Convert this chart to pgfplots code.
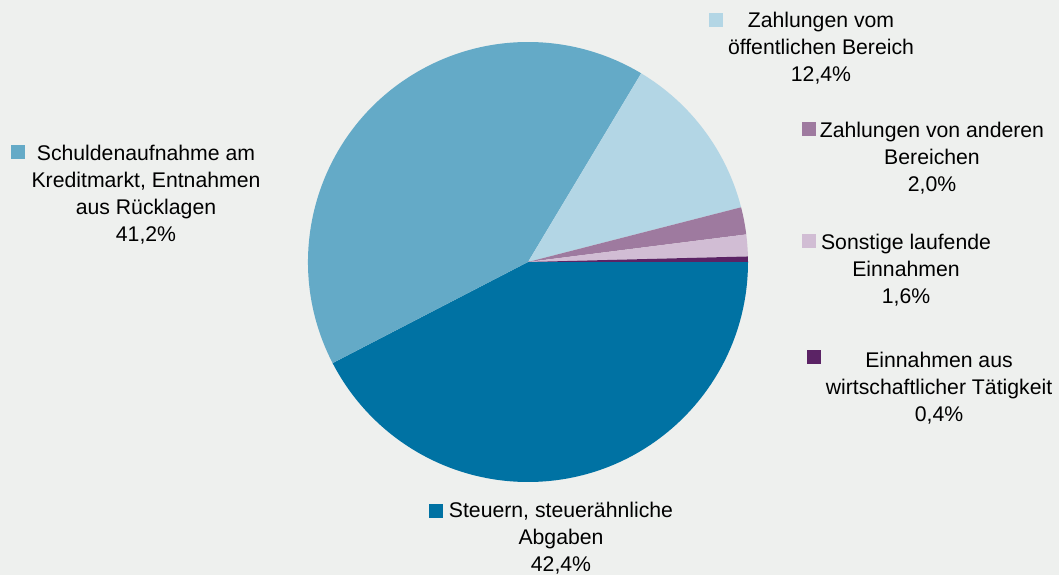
\documentclass[border=0pt]{standalone}
\usepackage{pgfplots}
\pgfplotsset{compat=1.18}
\usepackage{pgfplotstable}
\usepackage{fontspec}
\setmainfont{Liberation Sans}
\definecolor{bg}{HTML}{EEF0EE}
\definecolor{cA}{HTML}{0072A3}
\definecolor{cB}{HTML}{64AAC7}
\definecolor{cC}{HTML}{B3D6E5}
\definecolor{cD}{HTML}{9E7A9F}
\definecolor{cE}{HTML}{D1BDD4}
\definecolor{cF}{HTML}{5B2365}
\pgfplotstableread{
value
42.4
41.2
12.4
2.0
1.6
0.4
}\piedata
\tikzset{lab/.style={font=\fontsize{21.3}{27}\selectfont,align=center,inner sep=0pt}}
\begin{document}%
\begin{tikzpicture}
\pgfmathsetmacro\aO{0}
\pgfplotstablegetelem{0}{value}\of\piedata \pgfmathsetmacro\aA{\aO-3.6*\pgfplotsretval}
\pgfplotstablegetelem{1}{value}\of\piedata \pgfmathsetmacro\aB{\aA-3.6*\pgfplotsretval}
\pgfplotstablegetelem{2}{value}\of\piedata \pgfmathsetmacro\aC{\aB-3.6*\pgfplotsretval}
\pgfplotstablegetelem{3}{value}\of\piedata \pgfmathsetmacro\aD{\aC-3.6*\pgfplotsretval}
\pgfplotstablegetelem{4}{value}\of\piedata \pgfmathsetmacro\aE{\aD-3.6*\pgfplotsretval}
\pgfplotstablegetelem{5}{value}\of\piedata \pgfmathsetmacro\aF{\aE-3.6*\pgfplotsretval}
\begin{axis}[x=1bp,y=1bp,xmin=0,xmax=1059,ymin=0,ymax=575,hide axis,clip=false]
\fill[bg] (rel axis cs:0,0) rectangle (rel axis cs:1,1);
\coordinate (BL) at (rel axis cs:0,0);
\coordinate (TR) at (rel axis cs:1,1);
\def\slice#1#2#3{\fill[#1] (axis cs:528,313) -- +(#2:220bp) arc[start angle=#2,end angle=#3,radius=220bp] -- cycle;}
\slice{cA}{\aO}{\aA}
\slice{cB}{\aA}{\aB}
\slice{cC}{\aB}{\aC}
\slice{cD}{\aC}{\aD}
\slice{cE}{\aD}{\aE}
\slice{cF}{\aE}{\aF}
% labels
\node[lab] at (axis cs:821,526.5) {Zahlungen vom\\öffentlichen Bereich\\12,4\%};
\fill[cC] (axis cs:709,548) rectangle (axis cs:723,562);
\node[lab] at (axis cs:932,417) {Zahlungen von anderen\\Bereichen\\2,0\%};
\fill[cD] (axis cs:802,439) rectangle (axis cs:816,453);
\node[lab] at (axis cs:906,305) {Sonstige laufende\\Einnahmen\\1,6\%};
\fill[cE] (axis cs:802,327) rectangle (axis cs:816,341);
\node[lab] at (axis cs:939,187) {Einnahmen aus\\wirtschaftlicher Tätigkeit\\0,4\%};
\fill[cF] (axis cs:807,211) rectangle (axis cs:821,225);
\node[lab] at (axis cs:146,380) {Schuldenaufnahme am\\Kreditmarkt, Entnahmen\\aus Rücklagen\\41,2\%};
\fill[cB] (axis cs:11,416) rectangle (axis cs:25,430);
\node[lab] at (axis cs:561,36.5) {Steuern, steuerähnliche\\Abgaben\\42,4\%};
\fill[cA] (axis cs:429,57) rectangle (axis cs:443,71);
\end{axis}
\pgfresetboundingbox
\path[use as bounding box] (BL) rectangle (TR);
\end{tikzpicture}%
\end{document}
